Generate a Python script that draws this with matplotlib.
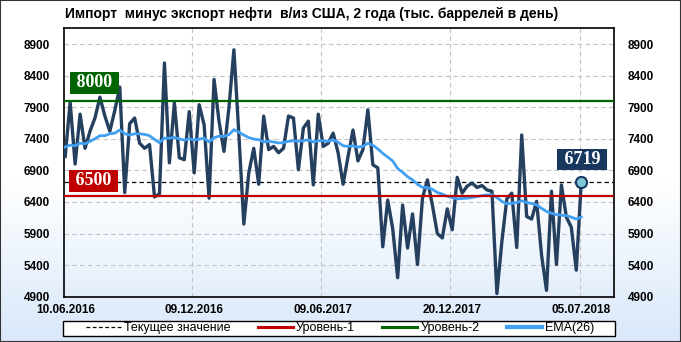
import numpy as np
import matplotlib
matplotlib.use("Agg")
import matplotlib.pyplot as plt
from matplotlib.patches import Rectangle
from matplotlib.lines import Line2D

plt.rcParams["font.family"] = ["Liberation Sans", "DejaVu Sans"]

title = "Импорт  минус экспорт нефти  в/из США, 2 года (тыс. баррелей в день)"

# weekly net imports, thousand barrels per day (10.06.2016 ... 05.07.2018)
net_imports = [
    7120, 7980, 7000, 7790, 7250, 7520, 7730, 8060, 7760, 7520,
    7850, 8220, 6550, 7640, 7730, 7330, 7250, 7310, 6480, 6530,
    8600, 7020, 7970, 7100, 7070, 7830, 6860, 7940, 7620, 6460,
    8340, 7680, 7200, 7890, 8810, 7470, 6050, 6860, 7250, 6680,
    7760, 7230, 7280, 7180, 7250, 7760, 7730, 6910, 7570, 7680,
    6670, 7790, 7280, 7330, 7490, 7180, 6680, 7120, 7540, 7050,
    7230, 7860, 6990, 6940, 5690, 6430, 5980, 5200, 6350, 5670,
    6210, 5410, 6460, 6750, 6350, 5900, 5830, 6290, 5960, 6790,
    6540, 6650, 6700, 6630, 6660, 6590, 6570, 4950, 5770, 6450,
    6540, 5680, 7460, 6170, 6130, 6410, 5560, 5000, 6570, 5410,
    6670, 6160, 6000, 5320, 6719,
]

ema26 = [
    7270, 7300, 7290, 7330, 7320, 7360, 7400, 7450, 7450, 7480,
    7490, 7540, 7480, 7460, 7480, 7480, 7470, 7450, 7390, 7340,
    7410, 7410, 7420, 7400, 7380, 7400, 7385, 7395, 7410, 7350,
    7420, 7440, 7440, 7465, 7545, 7505, 7460, 7420, 7396, 7386,
    7350, 7360, 7350, 7335, 7340, 7360, 7370, 7360, 7370, 7385,
    7350, 7370, 7370, 7360, 7385, 7345, 7290, 7280, 7290, 7270,
    7280, 7330, 7300, 7240, 7170, 7110, 7050, 6930, 6870, 6800,
    6750, 6680, 6630, 6630, 6600, 6550, 6525, 6490, 6470, 6450,
    6455, 6460, 6470, 6487, 6500, 6513, 6513, 6470, 6410, 6370,
    6380, 6390, 6420, 6390, 6375, 6355, 6300, 6250, 6222, 6200,
    6190, 6185, 6160, 6130, 6160,
]

current_value = 6719
level_1 = 6500
level_2 = 8000

date_labels = ["10.06.2016", "09.12.2016", "09.06.2017", "20.12.2017", "05.07.2018"]
date_idx = [0, 26, 52, 78, 104]
y_ticks = list(range(4900, 9000, 500))

legend_labels = ["Текущее значение", "Уровень-1", "Уровень-2", "EMA(26)"]

W, H = 681, 342
fig = plt.figure(figsize=(W / 100, H / 100), dpi=100)

# background: white at the top fading into light blue at the bottom
bg = fig.add_axes([0, 0, 1, 1], zorder=-10)
rows = np.arange(H)
t = np.clip((rows - 180) / (H - 180), 0, 1)[:, None, None]
img = (1 - t) * np.array([1.0, 1.0, 1.0]) + t * np.array([0.85, 0.91, 0.98])
bg.imshow(img, aspect="auto", extent=[0, 1, 0, 1])
bg.axis("off")

ax = fig.add_axes([63.7 / W, 1 - 296.7 / H, (614 - 63.7) / W, (296.7 - 28.3) / H])
ax.set_facecolor("none")

x = np.arange(len(net_imports))
ax.set_xlim(-0.3, 110.6)
ax.set_ylim(4900, 9150)

ax.set_yticks(y_ticks)
ax.grid(axis="y", color="#c4c4c4", linestyle=(0, (4, 3)), linewidth=0.8)
for i in date_idx[1:]:
    ax.axvline(i - 0.35, color="#c4c4c4", linestyle=(0, (4, 3)), linewidth=0.8, zorder=0)
ax.set_xticks(date_idx, date_labels)

ax.tick_params(axis="y", length=0, pad=10, labelright=True, labelsize=8.5)
ax.tick_params(axis="x", length=0, pad=5, labelsize=8.5)
for lab in ax.get_xticklabels() + ax.get_yticklabels():
    lab.set_fontweight("bold")
for tl in ax.yaxis.get_major_ticks():
    tl.label2.set_fontweight("bold")
for sp in ax.spines.values():
    sp.set_linewidth(1.2)
    sp.set_color("black")

ax.axhline(current_value, color="black", linewidth=0.9, linestyle=(0, (3.5, 2.5)), zorder=2)
ax.plot(x, net_imports, color="#253f5f", linewidth=2.4, solid_joinstyle="round", zorder=3)
ax.plot(x, ema26, color="#42a0f2", linewidth=2.0, zorder=4)
ax.axhline(level_2, color="#006400", linewidth=1.6, zorder=5)
ax.axhline(level_1, color="#c00000", linewidth=1.6, zorder=5)
ax.plot(x[-1], net_imports[-1], "o", ms=8, mfc="#7fc6d8", mec="#17375e", mew=1.5, zorder=6)

box_font = dict(family=["Liberation Serif", "DejaVu Serif"], fontsize=13, fontweight="bold", color="white")
ax.annotate(f" {level_2} ", xy=(x[0], level_2), xytext=(21.2, 13), textcoords="offset points",
            ha="center", va="center", zorder=7,
            bbox=dict(boxstyle="square,pad=0.12", fc="#006400", ec="none"), **box_font)
ax.annotate(f" {level_1} ", xy=(x[0], level_1), xytext=(20.4, 10.6), textcoords="offset points",
            ha="center", va="center", zorder=7,
            bbox=dict(boxstyle="square,pad=0.12", fc="#c00000", ec="none"), **box_font)
ax.annotate(f" {net_imports[-1]} ", xy=(x[-1], net_imports[-1]), xytext=(0.6, 16.3), textcoords="offset points",
            ha="center", va="center", zorder=7,
            bbox=dict(boxstyle="square,pad=0.12", fc="#17375e", ec="none"), **box_font)

fig.text(65 / W, 1 - 14 / H, title, ha="left", va="center", fontsize=10, fontweight="bold")

# legend box across the bottom
fig.patches.append(Rectangle((63 / W, 1 - 336 / H), 552 / W, 15.3 / H, transform=fig.transFigure,
                             facecolor="white", edgecolor="black", linewidth=1.0, zorder=1))
handles = [
    Line2D([], [], color="black", linewidth=0.9, linestyle=(0, (3, 2))),
    Line2D([], [], color="#c00000", linewidth=2.2),
    Line2D([], [], color="#006400", linewidth=2.2),
    Line2D([], [], color="#42a0f2", linewidth=3.0),
]
leg = fig.legend(handles, legend_labels, loc="center", bbox_to_anchor=(340 / W, 1 - 328.5 / H),
                 ncol=4, frameon=False, fontsize=9, handlelength=2.8, handletextpad=0.25,
                 columnspacing=2.2, borderpad=0)
leg.set_zorder(2)

fig.patches.append(Rectangle((0, 0), 1, 1, transform=fig.transFigure, fill=False,
                             edgecolor="#333333", linewidth=1.5))

fig.savefig("out.png", dpi=100)
